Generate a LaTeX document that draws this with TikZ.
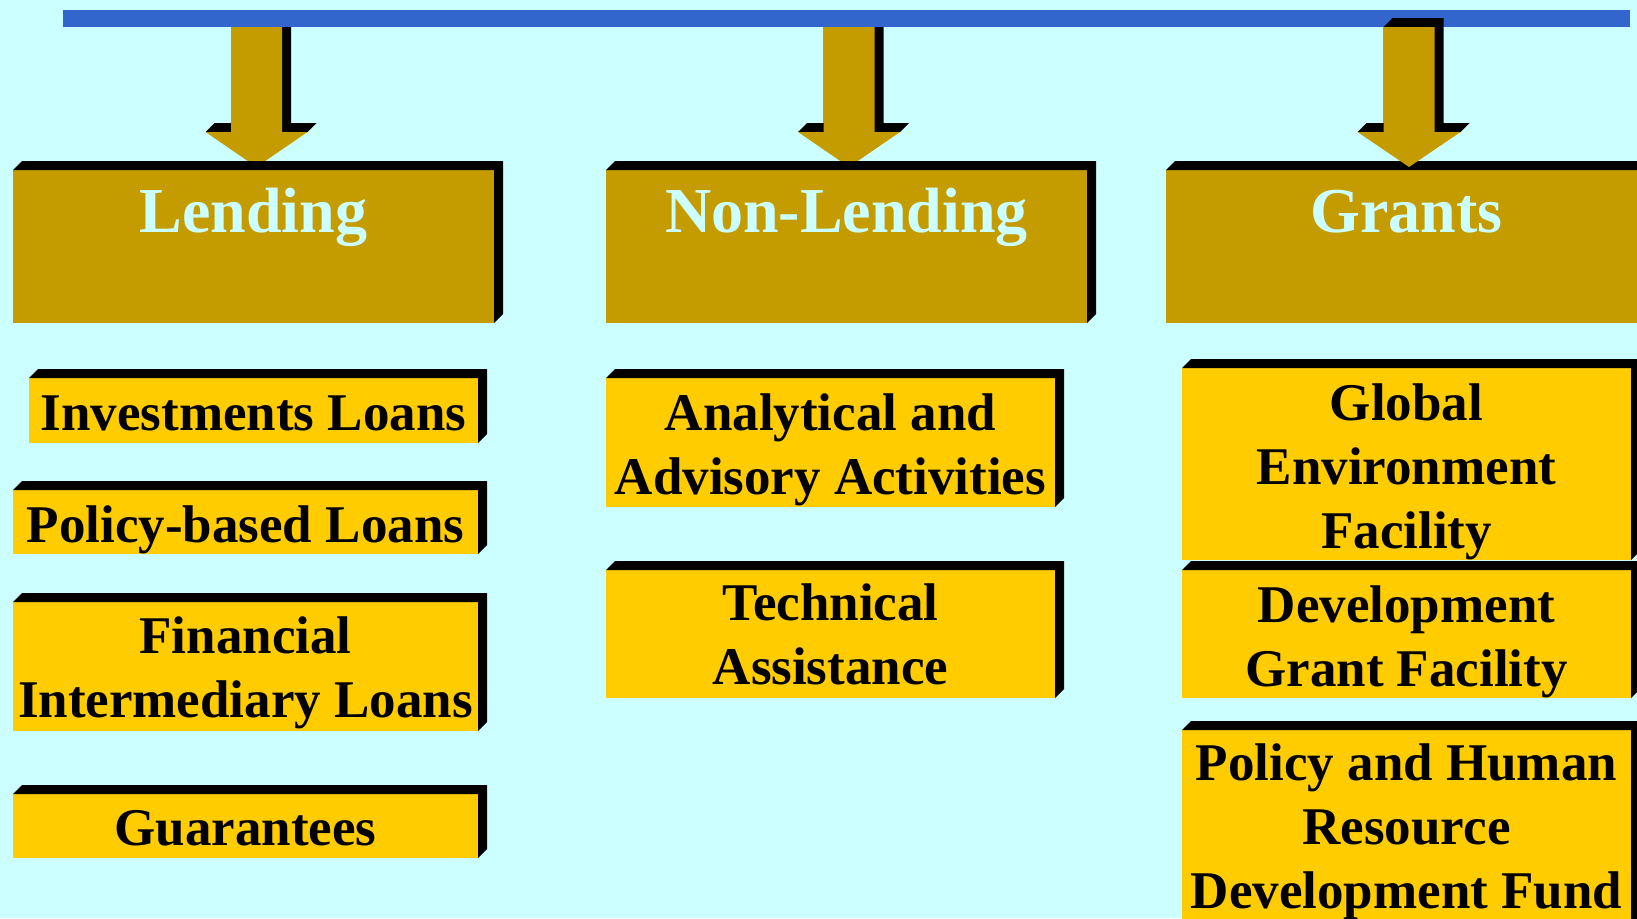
\documentclass[tikz,border=0pt]{standalone}
\usepackage{fontspec}
\setmainfont{Liberation Serif}
\usetikzlibrary{calc}
\definecolor{bgc}{HTML}{CCFFFF}
\definecolor{barc}{HTML}{3366CC}
\definecolor{hdrc}{HTML}{C49C00}
\definecolor{subc}{HTML}{FFCC00}
\definecolor{hdrtxtc}{HTML}{CCFFFF}
\pgfdeclarelayer{bglayer}
\pgfdeclarelayer{backlayer}
\pgfsetlayers{bglayer,backlayer,main}
\tikzset{
  box/.style={rectangle, draw=none, inner sep=0pt, outer sep=0pt, anchor=north west},
  hdrbox/.style={box, fill=hdrc, minimum width=481pt, minimum height=153pt},
  subbox/.style={box, fill=subc},
  subtxt/.style={inner sep=0pt, outer sep=0pt, anchor=north, align=center,
    font=\fontsize{53pt}{64pt}\selectfont\bfseries, text=black},
  hdrtxt/.style={inner sep=0pt, outer sep=0pt, anchor=north,
    font=\fontsize{64pt}{76pt}\selectfont\bfseries, text=hdrtxtc},
  pics/arrthreed/.style n args={2}{code={
    \fill[black] (-#2,105) -- (-#2+9,96) -- (-#1,96) -- (-#1,0) -- (-#1+9,-9)
      -- (#1+9,-9) -- (#1+9,96) -- (#2+9,96) -- (#2,105) -- cycle;
    \fill[hdrc] (-#1,0) -- (#1,0) -- (#1,105) -- (#2,105) -- (0,140)
      -- (-#2,105) -- (-#1,105) -- cycle;
  }}
}
\newcommand\extrudebox[1]{%
  \fill[black] (#1.north west) -- ++(9,-9) -- ([shift={(9,-9)}]#1.north east)
    -- ([shift={(9,-9)}]#1.south east) -- (#1.south east) -- (#1.north east) -- cycle;}
\begin{document}
\begin{tikzpicture}[x=1pt,y=-1pt]
\useasboundingbox (0,0) rectangle (1637,918);
\clip (0,0) rectangle (1637,918);
\begin{pgfonlayer}{bglayer}
  \fill[bgc] (0,0) rectangle (1637,918);
\end{pgfonlayer}

% top bar
\node[box, fill=barc, minimum width=1567pt, minimum height=17pt] (bar) at (63,10) {};

% header boxes
\node[hdrbox] (lend) at (13,170) {};
\extrudebox{lend}
\node[hdrtxt] (lendT) at ([yshift=-12pt]lend.north) {\rule{0pt}{50pt}Lending};
\node[hdrbox] (nonl) at (606,170) {};
\extrudebox{nonl}
\node[hdrtxt] (nonlT) at ([yshift=-12pt]nonl.north) {\rule{0pt}{50pt}Non-Lending};
\node[hdrbox] (grant) at (1166,170) {};
\extrudebox{grant}
\node[hdrtxt] (grantT) at ([yshift=-12pt]grant.north) {\rule{0pt}{50pt}Grants};

% arrows from bar to headers
\coordinate (a1) at ($(lend.north)+(3,0)$);
\coordinate (a2) at ($(nonl.north)+(2.5,0)$);
\coordinate (a3) at ($(grant.north)+(2.5,0)$);
\begin{pgfonlayer}{backlayer}
  \pic at (a1 |- bar.south) {arrthreed={25.5}{51}};
  \pic at (a2 |- bar.south) {arrthreed={25.5}{51}};
\end{pgfonlayer}
\pic at (a3 |- bar.south) {arrthreed={25.5}{51.5}};

% Lending column
\node[subbox, minimum width=449pt, minimum height=65pt] (inv) at (29,378) {};
\extrudebox{inv}
\node[subtxt] (invT) at ([yshift=-12pt]inv.north) {\rule{0pt}{40pt}Investments Loans};
\node[subbox, minimum width=465pt, minimum height=64pt] (pol) at (13,490) {};
\extrudebox{pol}
\node[subtxt] (polT) at ([yshift=-12pt]pol.north) {\rule{0pt}{40pt}Policy-based Loans};
\node[subbox, minimum width=465pt, minimum height=129pt] (fin) at (13,602) {};
\extrudebox{fin}
\node[subtxt] (finT) at ([yshift=-11pt]fin.north) {\rule{0pt}{40pt}Financial\\Intermediary Loans};
\node[subbox, minimum width=465pt, minimum height=64pt] (gua) at (13,794) {};
\extrudebox{gua}
\node[subtxt] (guaT) at ([yshift=-11pt]gua.north) {\rule{0pt}{40pt}Guarantees};

% Non-Lending column
\node[subbox, minimum width=449pt, minimum height=129pt] (ana) at (606,378) {};
\extrudebox{ana}
\node[subtxt] (anaT) at ([yshift=-12pt]ana.north) {\rule{0pt}{40pt}Analytical and\\Advisory Activities};
\node[subbox, minimum width=449pt, minimum height=128pt] (tec) at (606,570) {};
\extrudebox{tec}
\node[subtxt] (tecT) at ([yshift=-10pt]tec.north) {\rule{0pt}{40pt}Technical\\Assistance};

% Grants column
\node[subbox, minimum width=449pt, minimum height=192pt] (gef) at (1182,368) {};
\extrudebox{gef}
\node[subtxt] (gefT) at ([yshift=-12pt]gef.north) {\rule{0pt}{40pt}Global\\Environment\\Facility};
\node[subbox, minimum width=449pt, minimum height=128pt] (dgf) at (1182,570) {};
\extrudebox{dgf}
\node[subtxt] (dgfT) at ([yshift=-12pt]dgf.north) {\rule{0pt}{40pt}Development\\Grant Facility};
\node[subbox, minimum width=449pt, minimum height=210pt] (phr) at (1182,730) {};
\extrudebox{phr}
\node[subtxt] (phrT) at ([yshift=-10pt]phr.north) {\rule{0pt}{40pt}Policy and Human\\Resource\\Development Fund};
\end{tikzpicture}
\end{document}
